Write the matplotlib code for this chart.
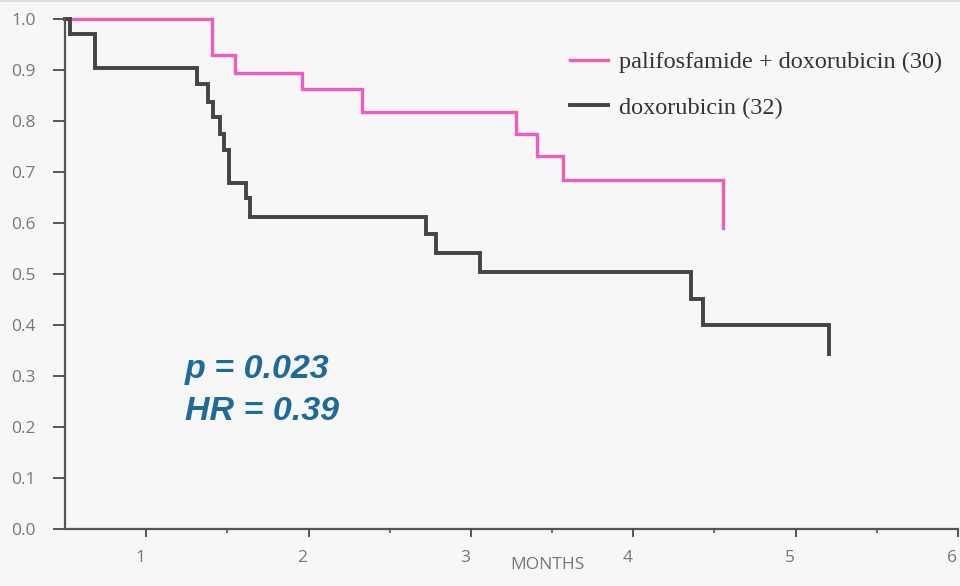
import numpy as np
import matplotlib
matplotlib.use('Agg')
import matplotlib.pyplot as plt
from matplotlib.lines import Line2D
from matplotlib.transforms import ScaledTranslation

# Kaplan-Meier steps
combo_t = [0.5, 1.405, 1.546, 1.958, 2.327, 3.28, 3.41, 3.566, 4.555]
combo_s = [1.0, 0.929, 0.895, 0.862, 0.817, 0.774, 0.732, 0.684, 0.59]

doxo_t = [0.5, 0.53, 0.685, 1.31, 1.382, 1.409, 1.454, 1.480, 1.509, 1.615,
          1.638, 2.722, 2.783, 3.054, 4.357, 4.428, 5.208]
doxo_s = [1.0, 0.97, 0.903, 0.872, 0.838, 0.807, 0.774, 0.743, 0.679, 0.650,
          0.612, 0.578, 0.542, 0.503, 0.451, 0.40, 0.344]

labels = ['palifosfamide + doxorubicin (30)', 'doxorubicin (32)']
xticks = [1, 2, 3, 4, 5, 6]
yticks = np.round(np.arange(0, 1.01, 0.1), 1)

bg = '#f7f7f7'
pink = '#ee5cc0'
dark = '#444444'
axc = '#555555'
txtc = '#777777'

fig = plt.figure(figsize=(9.6, 5.86), dpi=100, facecolor=bg)
ax = fig.add_axes([65/960, 1-529/586, 893/960, 510/586], facecolor=bg)

ax.step(combo_t, combo_s, where='post', color=pink, lw=2.4, label=labels[0],
        clip_on=False, solid_joinstyle='miter')
ax.step(doxo_t, doxo_s, where='post', color=dark, lw=2.8, label=labels[1],
        clip_on=False, solid_joinstyle='miter')

ax.set_xlim(0.5, 6)
ax.set_ylim(0, 1.0)
ax.set_xticks(xticks)
ax.set_xticks(np.arange(1.5, 6, 1.0), minor=True)
ax.set_yticks(yticks)
ax.set_yticklabels([f'{v:.1f}' for v in yticks])

for s in ['top', 'right']:
    ax.spines[s].set_visible(False)
for s in ['left', 'bottom']:
    ax.spines[s].set_color(axc)
    ax.spines[s].set_linewidth(1.6)

ax.tick_params(axis='y', direction='out', length=9, width=1.4, color=axc,
               pad=12, labelcolor=txtc, labelsize=12.5)
ax.tick_params(axis='x', which='major', direction='out', length=6, width=1.4,
               color=axc, pad=9, labelcolor=txtc, labelsize=12.5)
ax.tick_params(axis='x', which='minor', direction='out', length=3, width=1.2,
               color=axc)
for lab in ax.get_xticklabels() + ax.get_yticklabels():
    lab.set_fontfamily('Open Sans')
# x tick labels sit a little left of their ticks in the original
shift = ScaledTranslation(-6/100, 0, fig.dpi_scale_trans)
for lab in ax.get_xticklabels():
    lab.set_transform(lab.get_transform() + shift)

ax.set_xlabel('MONTHS', fontsize=12.5, family='Open Sans', color=txtc)
ax.xaxis.set_label_coords(0.54, -0.055)

leg = ax.legend(loc='upper left', bbox_to_anchor=(0.5655, 0.937), frameon=False,
                prop={'family': 'Liberation Serif', 'size': 17.5},
                handlelength=1.55, handletextpad=0.45, labelspacing=0.97,
                borderpad=0, borderaxespad=0)
for t in leg.get_texts():
    t.set_color('#333333')

stat_kw = dict(fontsize=24.5, fontweight='bold', fontstyle='italic',
               family='Liberation Sans', color='#1f6b98', va='baseline')
ax.text(1.238, 0.296, 'p = 0.023', **stat_kw)
ax.text(1.238, 0.214, 'HR = 0.39', **stat_kw)

fig.add_artist(Line2D([0, 1], [0.999, 0.999], color='#d8d8d8', lw=1.2))

fig.savefig('out.png', dpi=100, facecolor=bg)
